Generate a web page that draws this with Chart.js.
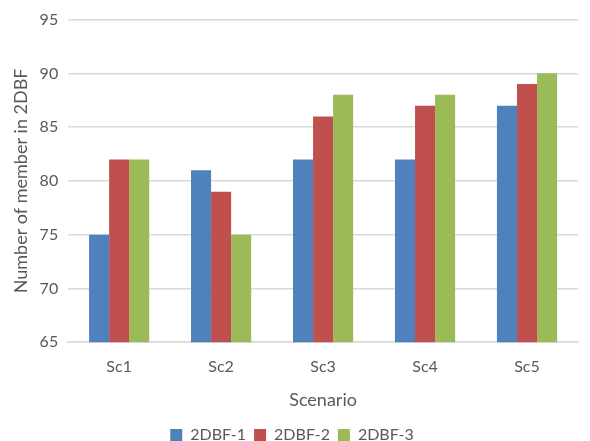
<!DOCTYPE html>
<html>
<head>
<meta charset="utf-8">
<script src="https://cdn.jsdelivr.net/npm/chart.js@4"></script>
<style>
  html, body { margin: 0; padding: 0; background: #fff; }
  #wrap { width: 590px; height: 441px; }
</style>
</head>
<body>
<div id="wrap"><canvas id="chart" width="590" height="441"></canvas></div>
<script>
const scenarios = ['Sc1', 'Sc2', 'Sc3', 'Sc4', 'Sc5'];
const dbf1 = [75, 81, 82, 82, 87];
const dbf2 = [82, 79, 86, 87, 89];
const dbf3 = [82, 75, 88, 88, 90];
const seriesNames = ['2DBF-1', '2DBF-2', '2DBF-3'];
const seriesColors = ['#4F81BD', '#C0504D', '#9BBB59'];

const textColor = '#595959';
const fontFamily = 'Lato, "Open Sans", sans-serif';

const ctx = document.getElementById('chart');
new Chart(ctx, {
  type: 'bar',
  data: {
    labels: scenarios,
    datasets: [dbf1, dbf2, dbf3].map((values, i) => ({
      label: seriesNames[i],
      data: values,
      backgroundColor: seriesColors[i],
      borderWidth: 0,
      categoryPercentage: 0.59,
      barPercentage: 1.0
    }))
  },
  options: {
    responsive: false,
    animation: false,
    layout: { padding: { left: 6, right: 12, top: 8, bottom: -12 } },
    scales: {
      y: {
        min: 65,
        max: 95,
        ticks: { stepSize: 5, color: textColor, font: { family: fontFamily, size: 16 }, padding: 10 },
        grid: { color: '#d9d9d9', lineWidth: 1.5, drawTicks: false },
        border: { display: false },
        title: {
          display: true,
          text: 'Number of member in 2DBF',
          color: textColor,
          font: { family: fontFamily, size: 18 },
          padding: { bottom: -2 }
        }
      },
      x: {
        ticks: { color: textColor, font: { family: fontFamily, size: 16 }, padding: 7 },
        grid: { display: false },
        border: { display: true, color: '#d9d9d9', width: 1.5 },
        title: {
          display: true,
          text: 'Scenario',
          color: textColor,
          font: { family: fontFamily, size: 18 },
          padding: { top: 6, bottom: 8 }
        }
      }
    },
    plugins: {
      legend: {
        position: 'bottom',
        labels: {
          color: textColor,
          font: { family: fontFamily, size: 16 },
          boxWidth: 12,
          boxHeight: 12,
          padding: 8
        }
      },
      tooltip: { enabled: false }
    }
  }
});
</script>
</body>
</html>
